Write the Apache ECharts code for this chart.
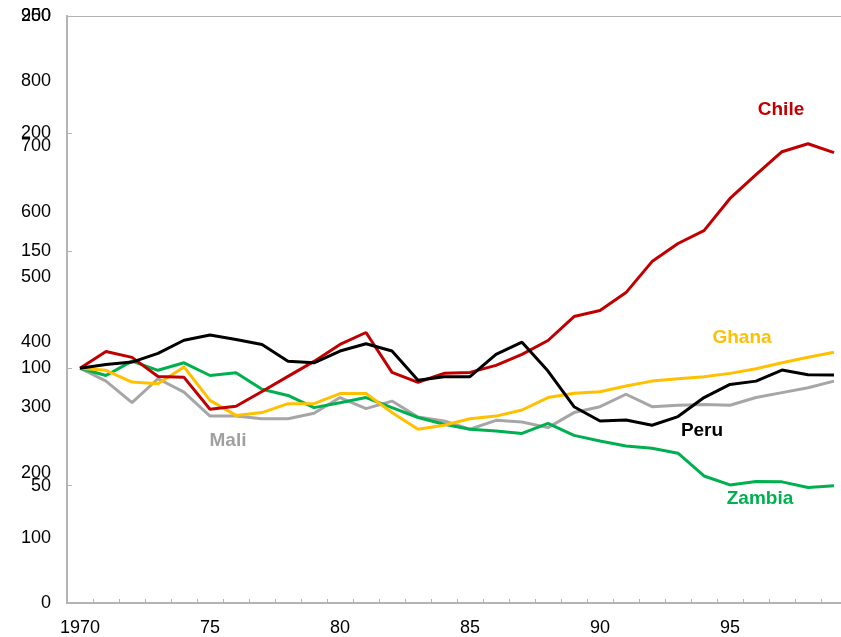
<!DOCTYPE html>
<html>
<head>
<meta charset="utf-8">
<script src="https://cdn.jsdelivr.net/npm/echarts@6/dist/echarts.min.js"></script>
<style>html,body{margin:0;padding:0;background:#fff;overflow:hidden;width:841px;height:637px}#c{width:847px;height:637px}</style>
</head>
<body>
<div id="c"></div>
<script>
var years = [];
for (var y = 1970; y <= 1999; y++) years.push(String(y));

var chile  = [100,107.1,104.6,96.5,96.1,82.5,83.8,90.1,96.5,102.9,110.1,115.2,98.2,94.0,97.8,98.2,101.2,105.9,111.8,122.0,124.6,132.2,145.4,153.1,158.6,172.3,182.4,192.2,195.6,191.8];
var peru   = [100,101.6,102.6,106.3,111.9,114.1,112.2,110.1,103.0,102.3,107.3,110.4,107.3,94.9,96.4,96.4,105.9,111.1,98.8,83.6,77.5,77.9,75.7,79.4,87.5,93.1,94.5,99.2,97.2,97.1];
var ghana  = [100,99.1,94.1,93.4,100.5,86.3,79.9,81.1,84.9,84.9,89.2,89.2,81.1,74.0,75.7,78.5,79.6,82.2,87.5,89.3,90.0,92.4,94.5,95.5,96.4,97.8,99.8,102.3,104.7,106.8];
var zambia = [100,96.9,103.0,99.1,102.3,96.9,98.1,91.0,88.4,83.2,85.3,87.5,83.2,79.0,76.1,74.0,73.3,72.2,76.5,71.4,69.0,66.9,65.9,63.8,54.1,50.3,51.7,51.6,49.2,49.9];
var mali   = [100,94.5,85.3,95.5,89.8,79.6,79.6,78.5,78.5,80.8,87.5,82.8,86.0,79.2,77.5,74.0,77.8,77.1,74.7,81.1,83.6,88.9,83.6,84.2,84.5,84.2,87.5,89.6,91.7,94.5];

var font = 'Liberation Sans, Arial, sans-serif';
var axisGray = '#b4b4b4';

function line(name, data, color) {
  return {name: name, type: 'line', data: data, yAxisIndex: 1, symbol: 'none',
    lineStyle: {color: color, width: 3}, itemStyle: {color: color}, z: 3};
}

var chart = echarts.init(document.getElementById('c'), null, {renderer: 'canvas'});
chart.setOption({
  animation: false,
  backgroundColor: '#fff',
  grid: {left: 67, top: 16, right: 0, bottom: 33, containLabel: false},
  xAxis: [{
    type: 'category', data: years, boundaryGap: true, position: 'bottom',
    axisLine: {onZero: false, lineStyle: {color: axisGray, width: 2}},
    axisTick: {show: true, inside: true, length: 4, interval: 0, lineStyle: {color: axisGray, width: 1}},
    axisLabel: {
      interval: function (i) { return i % 5 === 0; },
      formatter: function (v) { return v === '1970' ? '1970' : v.slice(2); },
      color: '#000', fontFamily: font, fontSize: 18, margin: 16
    },
    splitLine: {show: false}
  }, {
    type: 'category', data: years, position: 'top',
    axisLine: {show: true, onZero: false, lineStyle: {color: axisGray, width: 1}},
    axisTick: {show: false}, axisLabel: {show: false}, splitLine: {show: false}
  }],
  yAxis: [{
    type: 'value', min: 0, max: 900, interval: 100, position: 'left',
    axisLine: {show: true, onZero: false, lineStyle: {color: axisGray, width: 2}},
    axisTick: {show: false},
    axisLabel: {color: '#000', fontFamily: font, fontSize: 18, margin: 16},
    splitLine: {show: false}
  }, {
    type: 'value', min: 0, max: 250, interval: 50, position: 'left', offset: 0,
    axisLine: {show: true, onZero: false, lineStyle: {color: axisGray, width: 2}},
    axisTick: {show: true, inside: true, length: 5, lineStyle: {color: axisGray, width: 1}},
    axisLabel: {color: '#000', fontFamily: font, fontSize: 18, margin: 16, showMinLabel: false},
    splitLine: {show: false}
  }],
  series: [
    line('Mali', mali, '#a6a6a6'),
    line('Zambia', zambia, '#00b050'),
    line('Ghana', ghana, '#ffc000'),
    line('Chile', chile, '#c00000'),
    line('Peru', peru, '#000000')
  ],
  graphic: [
    {type: 'text', x: 781, y: 110, style: {text: 'Chile', fill: '#c00000', font: 'bold 19px ' + font, textAlign: 'center', textVerticalAlign: 'middle'}},
    {type: 'text', x: 742, y: 338, style: {text: 'Ghana', fill: '#ffc000', font: 'bold 19px ' + font, textAlign: 'center', textVerticalAlign: 'middle'}},
    {type: 'text', x: 702, y: 431, style: {text: 'Peru', fill: '#000000', font: 'bold 19px ' + font, textAlign: 'center', textVerticalAlign: 'middle'}},
    {type: 'text', x: 228, y: 441, style: {text: 'Mali', fill: '#a0a0a0', font: 'bold 19px ' + font, textAlign: 'center', textVerticalAlign: 'middle'}},
    {type: 'text', x: 760, y: 499, style: {text: 'Zambia', fill: '#00b050', font: 'bold 19px ' + font, textAlign: 'center', textVerticalAlign: 'middle'}}
  ]
});
</script>
</body>
</html>
